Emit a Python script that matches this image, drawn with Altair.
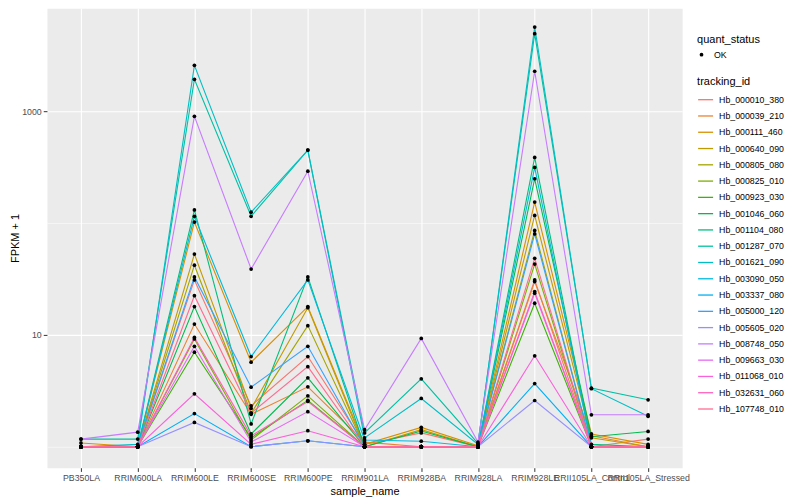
import altair as alt
import pandas as pd

samples = ["PB350LA", "RRIM600LA", "RRIM600LE", "RRIM600SE", "RRIM600PE", "RRIM901LA",
           "RRIM928BA", "RRIM928LA", "RRIM928LE", "RRII105LA_Control", "RRII105LA_Stressed"]

ids = ["Hb_000010_380", "Hb_000039_210", "Hb_000111_460", "Hb_000640_090", "Hb_000805_080",
       "Hb_000825_010", "Hb_000923_030", "Hb_001046_060", "Hb_001104_080", "Hb_001287_070",
       "Hb_001621_090", "Hb_003090_050", "Hb_003337_080", "Hb_005000_120", "Hb_005605_020",
       "Hb_008748_050", "Hb_009663_030", "Hb_011068_010", "Hb_032631_060", "Hb_107748_010"]

colors = ["#F8766D", "#EA8331", "#D89000", "#C09B00", "#A3A500", "#7CAE00", "#39B600", "#00BB4E",
          "#00BF7D", "#00C1A3", "#00BFC4", "#00BAE0", "#00B0F6", "#35A2FF", "#9590FF", "#C77CFF",
          "#E76BF3", "#FA62DB", "#FF62BC", "#FF6C91"]

# FPKM + 1 per sample (order of `samples`)
hb_000010_380 = [1.0, 1.0, 31, 2.32, 6.4, 1.05, 1.33, 1.0, 31, 1.0, 1.17]
hb_000039_210 = [1.0, 1.0, 12.5, 1.95, 3.43, 1.1, 1.0, 1.0, 30, 1.25, 1.0]
hb_000111_460 = [1.08, 1.0, 102, 5.7, 17.9, 1.05, 1.49, 1.02, 154, 1.3, 1.05]
hb_000640_090 = [1.0, 1.0, 52.8, 2.2, 17.5, 1.0, 1.42, 1.0, 117, 1.2, 1.0]
hb_000805_080 = [1.0, 1.0, 42, 2.0, 12.1, 1.0, 1.0, 1.0, 86, 1.0, 1.0]
hb_000825_010 = [1.0, 1.0, 9.2, 1.15, 2.85, 1.0, 1.0, 1.0, 43, 1.0, 1.0]
hb_000923_030 = [1.0, 1.0, 7.0, 1.2, 2.6, 1.0, 1.0, 1.0, 19.2, 1.0, 1.0]
hb_001046_060 = [1.0, 1.0, 17.9, 1.3, 4.13, 1.0, 1.38, 1.0, 249, 1.23, 1.37]
hb_001104_080 = [1.0, 1.0, 131, 1.6, 33, 1.0, 1.0, 1.0, 386, 1.05, 1.0]
hb_001287_070 = [1.17, 1.17, 1930, 115, 449, 1.33, 4.05, 1.07, 4940, 3.34, 2.63]
hb_001621_090 = [1.0, 1.05, 2570, 125, 449, 1.2, 2.7, 1.05, 5660, 3.3, 1.87]
hb_003090_050 = [1.0, 1.0, 115, 6.4, 31, 1.15, 1.12, 1.0, 314, 1.0, 1.0]
hb_003337_080 = [1.0, 1.0, 1.98, 1.0, 1.13, 1.0, 1.0, 1.0, 3.67, 1.0, 1.0]
hb_005000_120 = [1.0, 1.0, 33, 3.41, 7.9, 1.0, 1.0, 1.0, 80, 1.0, 1.0]
hb_005605_020 = [1.0, 1.0, 1.65, 1.0, 1.13, 1.0, 1.0, 1.0, 2.59, 1.0, 1.0]
hb_008748_050 = [1.17, 1.35, 900, 38.8, 291, 1.42, 9.3, 1.1, 2277, 1.93, 1.93]
hb_009663_030 = [1.0, 1.0, 7.9, 1.1, 2.06, 1.0, 1.0, 1.0, 23.6, 1.0, 1.0]
hb_011068_010 = [1.0, 1.0, 2.97, 1.05, 1.39, 1.0, 1.0, 1.0, 6.5, 1.0, 1.0]
hb_032631_060 = [1.0, 1.0, 9.5, 1.25, 2.54, 1.0, 1.0, 1.0, 24.4, 1.0, 1.0]
hb_107748_010 = [1.0, 1.0, 22.4, 2.0, 5.2, 1.0, 1.0, 1.0, 48.4, 1.0, 1.0]

series = [hb_000010_380, hb_000039_210, hb_000111_460, hb_000640_090, hb_000805_080,
          hb_000825_010, hb_000923_030, hb_001046_060, hb_001104_080, hb_001287_070,
          hb_001621_090, hb_003090_050, hb_003337_080, hb_005000_120, hb_005605_020,
          hb_008748_050, hb_009663_030, hb_011068_010, hb_032631_060, hb_107748_010]

rows = []
for tid, vals in zip(ids, series):
    for s, v in zip(samples, vals):
        rows.append({"tracking_id": tid, "sample_name": s, "fpkm": v, "quant_status": "OK"})
df = pd.DataFrame(rows)

FONT = "Liberation Sans"

x_enc = alt.X(
    "sample_name:N", sort=samples,
    scale=alt.Scale(type="point", padding=0.6),
    axis=alt.Axis(title="sample_name", labelAngle=0, labelOverlap=False, grid=True,
                  gridColor="white", gridWidth=1.1, domain=False,
                  tickColor="#333333", tickSize=3.7, tickWidth=1,
                  labelColor="#4D4D4D", labelFontSize=8.8, labelPadding=2,
                  titleFontSize=11, titleFontWeight="normal", titleColor="black",
                  titlePadding=3),
)

y_scale = alt.Scale(type="log", domain=[0.649, 8320], nice=False)

lines = alt.Chart(df).mark_line(strokeWidth=1.1).encode(
    x=x_enc,
    y=alt.Y("fpkm:Q", scale=y_scale,
            axis=alt.Axis(title="FPKM + 1", values=[10, 1000], format="d", grid=True,
                          gridColor="white", gridWidth=1.1, domain=False,
                          tickColor="#333333", tickSize=3.7,
                          labelColor="#4D4D4D", labelFontSize=8.8, labelPadding=2,
                          titleFontSize=11, titleFontWeight="normal", titleColor="black",
                          titlePadding=1)),
    color=alt.Color("tracking_id:N", scale=alt.Scale(domain=ids, range=colors),
                    legend=alt.Legend(title="tracking_id", orient="none", legendX=651, legendY=68,
                                      symbolType="stroke", symbolSize=225, symbolStrokeWidth=1.3,
                                      labelFontSize=8.8, labelColor="black", labelOffset=5,
                                      rowPadding=2.3, titleFontSize=11, titleFontWeight="normal",
                                      titleColor="black", titlePadding=4)),
    detail="tracking_id:N",
)

points = alt.Chart(df).mark_point(filled=True, size=14, opacity=1, color="black").encode(
    x=alt.X("sample_name:N", sort=samples),
    y=alt.Y("fpkm:Q", scale=y_scale,
            axis=alt.Axis(title=None, values=[1, 100], grid=True, gridColor="white",
                          gridWidth=0.55, labels=False, ticks=False, domain=False)),
    shape=alt.Shape("quant_status:N", scale=alt.Scale(range=["circle"]),
                    legend=alt.Legend(title="quant_status", orient="none", legendX=651, legendY=26,
                                      symbolSize=14, symbolFillColor="black", symbolStrokeWidth=0,
                                      labelFontSize=8.8, labelColor="black", labelOffset=8,
                                      titleFontSize=11, titleFontWeight="normal",
                                      titleColor="black", titlePadding=5)),
)

chart = alt.layer(lines, points).resolve_scale(y="shared").resolve_axis(y="independent").properties(
    width=636, height=460,
    autosize=alt.AutoSizeParams(type="none"),
    padding={"left": 39, "top": 0, "right": 110, "bottom": 30},
).configure(font=FONT).configure_view(fill="#EBEBEB", stroke="transparent")

chart.save("out.html", embed_options={"renderer": "svg", "actions": False})
